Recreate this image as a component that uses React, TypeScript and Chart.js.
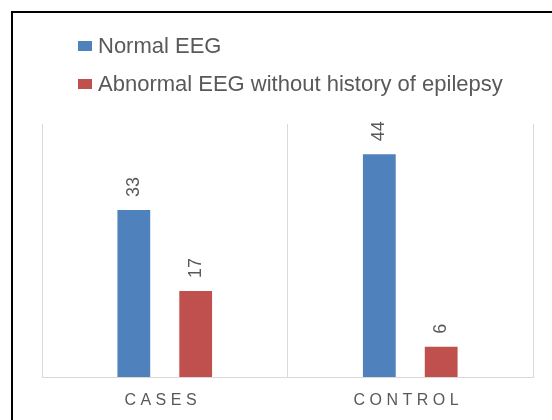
import React, { useEffect, useRef } from "react";
import { Chart, registerables } from "chart.js";

Chart.register(...registerables);

const categories = ["CASES", "CONTROL"];
const seriesNames = ["Normal EEG", "Abnormal EEG without history of epilepsy"];
const normalEEG = [33, 44];
const abnormalEEG = [17, 6];
const seriesColors = ["#4F81BD", "#C0504D"];
const yMin = 0;
const yMax = 50;

const TEXT = "#595959";
const FONT = "'Liberation Sans', Arial, sans-serif";

const legendPlugin = {
  id: "customLegend",
  afterDraw(chart: any) {
    const ctx = chart.ctx;
    const rows = [46, 84];
    ctx.save();
    chart.data.datasets.forEach((ds: any, i: number) => {
      const y = rows[i];
      ctx.fillStyle = ds.backgroundColor;
      ctx.fillRect(78, y - 5, 14, 10);
      ctx.fillStyle = TEXT;
      ctx.font = `22px ${FONT}`;
      ctx.textBaseline = "middle";
      ctx.textAlign = "left";
      ctx.fillText(ds.label, 98, y + 1);
    });
    ctx.restore();
  },
};

const valueLabelPlugin = {
  id: "valueLabels",
  afterDatasetsDraw(chart: any) {
    const ctx = chart.ctx;
    chart.data.datasets.forEach((ds: any, i: number) => {
      const meta = chart.getDatasetMeta(i);
      meta.data.forEach((bar: any, j: number) => {
        const { x, y } = bar.getProps(["x", "y"], true);
        ctx.save();
        ctx.translate(x, y - 13);
        ctx.rotate(-Math.PI / 2);
        ctx.font = `18px ${FONT}`;
        ctx.fillStyle = TEXT;
        ctx.textAlign = "left";
        ctx.textBaseline = "middle";
        ctx.fillText(String(ds.data[j]), 0, 0);
        ctx.restore();
      });
    });
  },
};

const xLabelPlugin = {
  id: "xLabels",
  afterDraw(chart: any) {
    const ctx = chart.ctx;
    const xs = chart.scales.x;
    const spacing = 4.5;
    ctx.save();
    ctx.font = `16px ${FONT}`;
    ctx.fillStyle = TEXT;
    ctx.textAlign = "center";
    ctx.textBaseline = "middle";
    (ctx as any).letterSpacing = `${spacing}px`;
    chart.data.labels.forEach((lab: string, j: number) => {
      const x = xs.getPixelForValue(j);
      ctx.fillText(lab, x - 2, chart.chartArea.bottom + 24);
    });
    ctx.restore();
  },
};

export default function App() {
  const ref = useRef<HTMLCanvasElement | null>(null);

  useEffect(() => {
    document.body.style.margin = "0";
    const canvas = ref.current;
    if (!canvas) return;
    const chart = new Chart(canvas, {
      type: "bar",
      data: {
        labels: categories,
        datasets: [
          {
            label: seriesNames[0],
            data: normalEEG,
            backgroundColor: seriesColors[0],
            categoryPercentage: 0.504,
            barPercentage: 0.53,
          },
          {
            label: seriesNames[1],
            data: abnormalEEG,
            backgroundColor: seriesColors[1],
            categoryPercentage: 0.504,
            barPercentage: 0.53,
          },
        ],
      },
      options: {
        responsive: false,
        animation: false,
        devicePixelRatio: 1,
        layout: { padding: { left: 42, right: 19, top: 124, bottom: 43 } },
        plugins: {
          legend: { display: false },
          tooltip: { enabled: false },
        },
        scales: {
          x: {
            offset: true,
            grid: {
              offset: true,
              color: "#D9D9D9",
              drawTicks: false,
              lineWidth: 1,
            },
            border: { color: "#D9D9D9", width: 1 },
            ticks: { display: false },
          },
          y: { display: false, min: yMin, max: yMax },
        },
      },
      plugins: [legendPlugin, valueLabelPlugin, xLabelPlugin],
    });
    return () => chart.destroy();
  }, []);

  return (
    <div
      style={{
        position: "absolute",
        left: 0,
        top: 0,
        width: 552,
        height: 420,
        overflow: "hidden",
        background: "#fff",
      }}
    >
      <div
        style={{
          position: "absolute",
          left: 11,
          top: 11,
          width: 620,
          height: 520,
          border: "2px solid #000",
          boxSizing: "border-box",
        }}
      />
      <canvas
        ref={ref}
        width={552}
        height={420}
        style={{ position: "absolute", left: 0, top: 0 }}
      />
    </div>
  );
}
